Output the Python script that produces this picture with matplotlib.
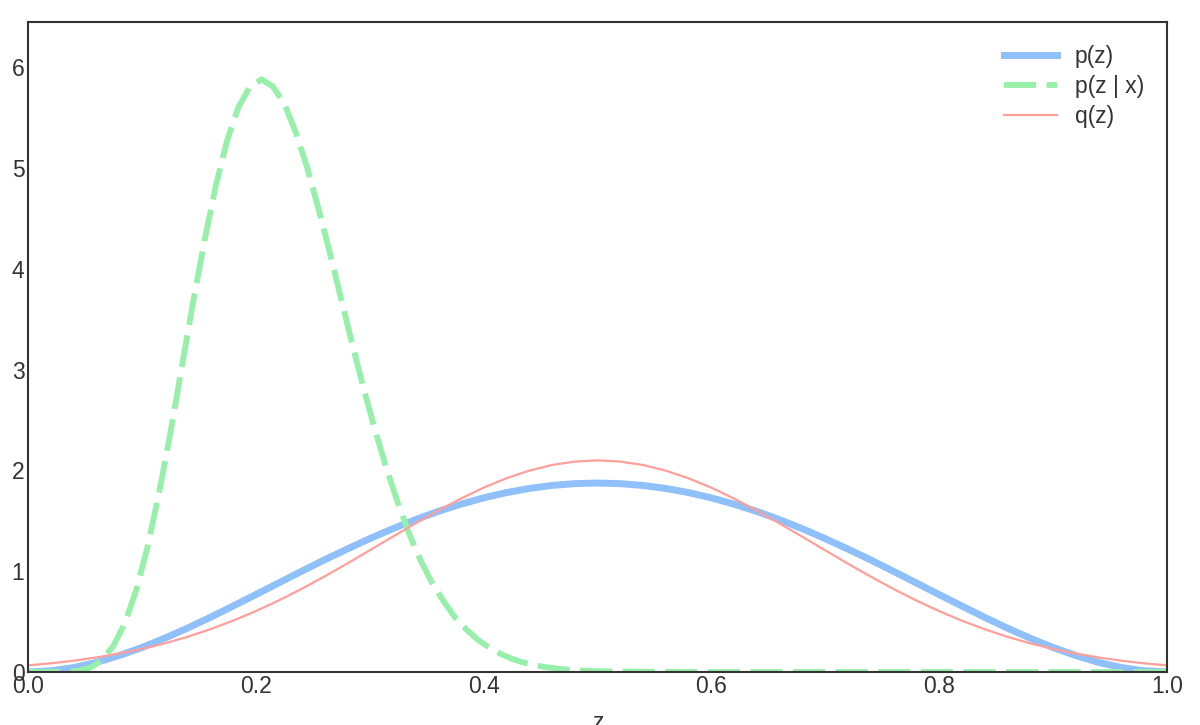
import matplotlib
matplotlib.use("Agg")
import matplotlib.pyplot as plt

# -------------------------
# Data
# -------------------------
z_grid = [0.00, 0.02, 0.04, 0.06, 0.08, 0.10, 0.12, 0.14, 0.16, 0.18,
          0.20, 0.22, 0.24, 0.26, 0.28, 0.30, 0.32, 0.34, 0.36, 0.38,
          0.40, 0.42, 0.44, 0.46, 0.48, 0.50, 0.52, 0.54, 0.56, 0.58,
          0.60, 0.62, 0.64, 0.66, 0.68, 0.70, 0.72, 0.74, 0.76, 0.78,
          0.80, 0.82, 0.84, 0.86, 0.88, 0.90, 0.92, 0.94, 0.96, 0.98, 1.00]

# prior p(z)
p_prior = [0.000, 0.012, 0.044, 0.095, 0.163, 0.243, 0.335, 0.435, 0.542, 0.654,
           0.768, 0.883, 0.998, 1.111, 1.219, 1.323, 1.421, 1.511, 1.593, 1.665,
           1.728, 1.780, 1.821, 1.851, 1.869, 1.875, 1.869, 1.851, 1.821, 1.780,
           1.728, 1.665, 1.593, 1.511, 1.421, 1.323, 1.219, 1.111, 0.998, 0.883,
           0.768, 0.654, 0.542, 0.435, 0.335, 0.243, 0.163, 0.095, 0.044, 0.012, 0.000]

# approximation q(z)
q_approx = [0.066, 0.086, 0.112, 0.144, 0.183, 0.229, 0.284, 0.349, 0.424, 0.509,
            0.604, 0.709, 0.823, 0.946, 1.074, 1.207, 1.341, 1.473, 1.601, 1.720,
            1.829, 1.922, 1.998, 2.054, 2.088, 2.100, 2.088, 2.054, 1.998, 1.922,
            1.829, 1.720, 1.601, 1.473, 1.341, 1.207, 1.074, 0.946, 0.823, 0.709,
            0.604, 0.509, 0.424, 0.349, 0.284, 0.229, 0.183, 0.144, 0.112, 0.086, 0.066]

# posterior p(z | x)
z_post = [0.000, 0.025, 0.045, 0.055, 0.065, 0.075, 0.085, 0.095, 0.105, 0.115,
          0.125, 0.135, 0.145, 0.155, 0.165, 0.175, 0.185, 0.195, 0.205, 0.215,
          0.225, 0.235, 0.245, 0.255, 0.265, 0.275, 0.285, 0.295, 0.305, 0.315,
          0.325, 0.335, 0.345, 0.355, 0.365, 0.375, 0.385, 0.395, 0.405, 0.415,
          0.425, 0.435, 0.445, 0.455, 0.465, 0.475, 0.485, 0.495, 0.505, 0.550,
          0.600, 1.000]
p_post = [0.000, 0.000, 0.012, 0.044, 0.118, 0.260, 0.482, 0.810, 1.242, 1.770,
          2.370, 3.020, 3.670, 4.280, 4.830, 5.280, 5.610, 5.810, 5.880, 5.810,
          5.640, 5.360, 5.010, 4.600, 4.160, 3.700, 3.240, 2.800, 2.390, 2.010,
          1.670, 1.360, 1.100, 0.880, 0.700, 0.540, 0.420, 0.320, 0.240, 0.180,
          0.130, 0.094, 0.067, 0.048, 0.033, 0.023, 0.016, 0.010, 0.007, 0.002,
          0.000, 0.000]

labels = ["p(z)", "p(z | x)", "q(z)"]
colors = ["#8FC0FA", "#97F0AA", "#FF9F9A"]

# -------------------------
# Figure
# -------------------------
plt.rcParams["font.family"] = ["Liberation Sans", "DejaVu Sans"]

fig = plt.figure(figsize=(12, 7.25), dpi=100)
ax = fig.add_axes([0.0233, 0.0731, 0.9492, 0.8966])

ax.plot(z_grid, p_prior, color=colors[0], lw=5, label=labels[0])
ax.plot(z_post, p_post, color=colors[1], lw=4.2, ls=(0, (5.5, 1.8)), label=labels[1])
ax.plot(z_grid, q_approx, color=colors[2], lw=1.6, label=labels[2])

ax.set_xlim(0, 1)
ax.set_ylim(0, 6.45)
ax.set_xticks([0.0, 0.2, 0.4, 0.6, 0.8, 1.0])
ax.set_yticks([0, 1, 2, 3, 4, 5, 6])
ax.tick_params(length=0, labelsize=16.5, colors="#333333", pad=2.5)
ax.set_xlabel("z", fontsize=16.5, color="#333333", labelpad=9)

for s in ax.spines.values():
    s.set_color("#333333")
    s.set_linewidth(1.5)

ax.legend(loc="upper right", frameon=False, fontsize=16.5, handlelength=2.3,
          handletextpad=0.8, borderaxespad=0.6, labelspacing=0.3,
          labelcolor="#333333")

fig.savefig("out.png", dpi=100)
